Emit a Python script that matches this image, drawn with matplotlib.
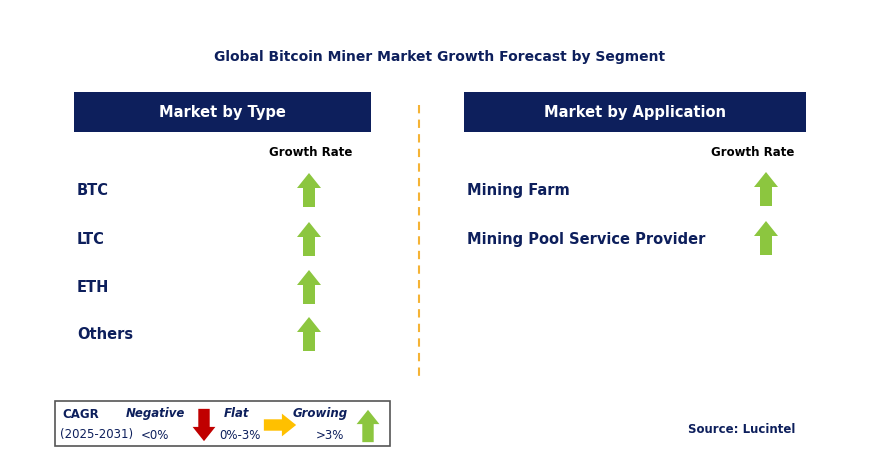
import matplotlib
matplotlib.use("Agg")
import matplotlib.pyplot as plt
from matplotlib.patches import Polygon, Rectangle

title = "Global Bitcoin Miner Market Growth Forecast by Segment"
type_categories = ["BTC", "LTC", "ETH", "Others"]
type_growth = ["Growing", "Growing", "Growing", "Growing"]
app_categories = ["Mining Farm", "Mining Pool Service Provider"]
app_growth = ["Growing", "Growing"]

NAVY = "#0d1f5c"
GREEN = "#8cc63f"
RED = "#c00000"
YELLOW = "#ffc000"

fig = plt.figure(figsize=(8.7, 4.73), dpi=100)
ax = fig.add_axes([0, 0, 1, 1])
ax.set_xlim(0, 870)
ax.set_ylim(473, 0)
ax.axis("off")

def arrow(cx, cy, kind, scale=1.0):
    h = 34 * scale; hw = 12 * scale; sw = 6 * scale; hh = 15 * scale
    if kind == "Growing":
        pts = [(cx, cy - h/2), (cx + hw, cy - h/2 + hh), (cx + sw, cy - h/2 + hh),
               (cx + sw, cy + h/2), (cx - sw, cy + h/2), (cx - sw, cy - h/2 + hh),
               (cx - hw, cy - h/2 + hh)]
        c = GREEN
    elif kind == "Negative":
        pts = [(cx, cy + h/2), (cx + hw, cy + h/2 - hh), (cx + sw, cy + h/2 - hh),
               (cx + sw, cy - h/2), (cx - sw, cy - h/2), (cx - sw, cy + h/2 - hh),
               (cx - hw, cy + h/2 - hh)]
        c = RED
    else:
        pts = [(cx + h/2, cy), (cx + h/2 - hh, cy - hw), (cx + h/2 - hh, cy - sw),
               (cx - h/2, cy - sw), (cx - h/2, cy + sw), (cx + h/2 - hh, cy + sw),
               (cx + h/2 - hh, cy + hw)]
        c = YELLOW
    ax.add_patch(Polygon(pts, closed=True, color=c, lw=0))

ax.text(440, 57, title, ha="center", va="center", fontsize=10, fontweight="bold", color=NAVY)

for x0, x1, label in [(74, 371, "Market by Type"), (464, 806, "Market by Application")]:
    ax.add_patch(Rectangle((x0, 92), x1 - x0, 40, color=NAVY, lw=0))
    ax.text((x0 + x1) / 2, 112, label, ha="center", va="center", fontsize=10.5,
            fontweight="bold", color="white")

ax.plot([419, 419], [105, 380], ls=(0, (4, 3)), color="#f5b335", lw=1.5)

ax.text(311, 152, "Growth Rate", ha="center", va="center", fontsize=8.5, fontweight="bold", color="black")
ax.text(753, 152, "Growth Rate", ha="center", va="center", fontsize=8.5, fontweight="bold", color="black")

row_y = [190, 239, 287, 334]
for i, (cat, g) in enumerate(zip(type_categories, type_growth)):
    ax.text(77, row_y[i], cat, ha="left", va="center", fontsize=10.5, fontweight="bold", color=NAVY)
    arrow(309, row_y[i], g)
for i, (cat, g) in enumerate(zip(app_categories, app_growth)):
    ax.text(467, row_y[i], cat, ha="left", va="center", fontsize=10.5, fontweight="bold", color=NAVY)
    arrow(766, row_y[i] - 1, g)

ax.add_patch(Rectangle((55, 401), 335, 45, fill=False, ec="#555555", lw=1.2))
ax.text(62, 414, "CAGR", ha="left", va="center", fontsize=8.5, fontweight="bold", color=NAVY)
ax.text(60, 434, "(2025-2031)", ha="left", va="center", fontsize=8.5, color=NAVY)
ax.text(155, 413, "Negative", ha="center", va="center", fontsize=8.5, fontweight="bold", style="italic", color=NAVY)
ax.text(155, 435, "<0%", ha="center", va="center", fontsize=8.5, color=NAVY)
arrow(204, 425, "Negative", scale=0.95)
ax.text(237, 413, "Flat", ha="center", va="center", fontsize=8.5, fontweight="bold", style="italic", color=NAVY)
ax.text(240, 435, "0%-3%", ha="center", va="center", fontsize=8.5, color=NAVY)
arrow(280, 425, "Flat", scale=0.95)
ax.text(320, 413, "Growing", ha="center", va="center", fontsize=8.5, fontweight="bold", style="italic", color=NAVY)
ax.text(330, 435, ">3%", ha="center", va="center", fontsize=8.5, color=NAVY)
arrow(368, 426, "Growing", scale=0.95)

ax.text(742, 429, "Source: Lucintel", ha="center", va="center", fontsize=8.5, fontweight="bold", color=NAVY)

fig.savefig("out.png", dpi=100)
